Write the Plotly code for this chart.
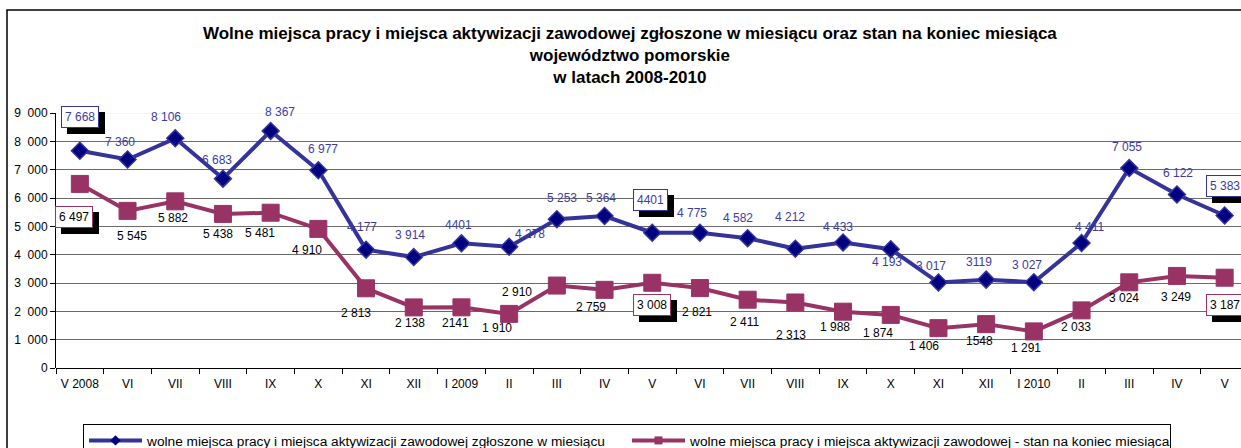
import plotly.graph_objects as go

months = ["V 2008", "VI", "VII", "VIII", "IX", "X", "XI", "XII", "I 2009", "II", "III", "IV",
          "V", "VI", "VII", "VIII", "IX", "X", "XI", "XII", "I 2010", "II", "III", "IV", "V"]

zgloszone = [7668, 7360, 8106, 6683, 8367, 6977, 4177, 3914, 4401, 4278, 5253, 5364,
             4775, 4775, 4582, 4212, 4433, 4193, 3017, 3119, 3027, 4411, 7055, 6122, 5383]
zgloszone_txt = ["7 668", "7 360", "8 106", "6 683", "8 367", "6 977", "4 177", "3 914", "4401",
                 "4 278", "5 253", "5 364", "4401", "4 775", "4 582", "4 212", "4 433", "4 193",
                 "3 017", "3119", "3 027", "4 411", "7 055", "6 122", "5 383"]

stan = [6497, 5545, 5882, 5438, 5481, 4910, 2813, 2138, 2141, 1910, 2910, 2759,
        3008, 2821, 2411, 2313, 1988, 1874, 1406, 1548, 1291, 2033, 3024, 3249, 3187]
stan_txt = ["6 497", "5 545", "5 882", "5 438", "5 481", "4 910", "2 813", "2 138", "2141",
            "1 910", "2 910", "2 759", "3 008", "2 821", "2 411", "2 313", "1 988", "1 874",
            "1 406", "1548", "1 291", "2 033", "3 024", "3 249", "3 187"]

y_ticks = [0, 1000, 2000, 3000, 4000, 5000, 6000, 7000, 8000, 9000]
y_ticktext = ["0", "1\u2007000", "2\u2007000", "3\u2007000", "4\u2007000", "5\u2007000",
              "6\u2007000", "7\u2007000", "8\u2007000", "9\u2007000"]

name1 = "wolne miejsca pracy i miejsca aktywizacji zawodowej zgłoszone w miesiącu"
name2 = "wolne miejsca pracy i miejsca aktywizacji zawodowej - stan na koniec miesiąca"

# --- styling (label offsets in screen pixels: dx right, dy down) ---
blue_off = [(0, -34), (-8, -17), (-9, -21), (-6, -19), (9, -19), (5, -21), (-4, -23), (-4, -22),
            (-3, -18), (21, -13), (5, -21), (-4, -18), (-2, -33), (-8, -20), (-10, -20), (-5, -32),
            (-5, -15), (-4, 13), (-7, -17), (-7, -18), (-7, -17), (8, -16), (-2, -21), (1, -22),
            (0, -29)]
red_off = [(-6, 33), (4, 25), (-2, 17), (-5, 20), (-11, 20), (-11, 21), (-10, 25), (-4, 16),
           (-6, 16), (-12, 14), (-40, 6), (-14, 17), (0, 22), (-3, 24), (-3, 22), (-4, 33),
           (-8, 15), (-13, 18), (-14, 18), (-7, 17), (-8, 17), (-6, 17), (-5, 16), (-1, 21),
           (0, 27)]
boxed = [0, 12, 24]

BLUE_LINE = "#333399"
BLUE_MARK = "#000080"
BLUE_TXT = "#3C3CA0"
RED = "#993366"
FONT = "Liberation Sans, Arial, sans-serif"

W, H = 1241, 448
L, R, T, B = 56, 0, 113, 80
PW, PH = W - L - R, H - T - B

xs = list(range(len(months)))

fig = go.Figure()
fig.add_trace(go.Scatter(
    x=xs, y=zgloszone, mode="lines+markers", showlegend=False,
    line=dict(color=BLUE_LINE, width=4),
    marker=dict(symbol="diamond", size=13, color=BLUE_MARK, line=dict(color=BLUE_LINE, width=1.5)),
))
fig.add_trace(go.Scatter(
    x=xs, y=stan, mode="lines+markers", showlegend=False,
    line=dict(color=RED, width=4),
    marker=dict(symbol="square", size=17, color=RED, line=dict(color=RED, width=1)),
))
# legend-only traces
fig.add_trace(go.Scatter(
    x=[None], y=[None], mode="lines+markers", name=name1,
    line=dict(color=BLUE_LINE, width=4),
    marker=dict(symbol="diamond", size=8, color=BLUE_MARK),
))
fig.add_trace(go.Scatter(
    x=[None], y=[None], mode="lines+markers", name=name2,
    line=dict(color=RED, width=4),
    marker=dict(symbol="square", size=8, color=RED),
))

ann = []
def add_labels(vals, txts, offs, color, border):
    for i, (v, t, (dx, dy)) in enumerate(zip(vals, txts, offs)):
        if i in boxed:
            ann.append(dict(x=i, y=v, xref="x", yref="y", text=t, showarrow=False,
                            xshift=dx + 6, yshift=-dy - 6,
                            font=dict(family=FONT, size=12, color="black"),
                            bgcolor="black", bordercolor="black", borderwidth=1, borderpad=3))
            ann.append(dict(x=i, y=v, xref="x", yref="y", text=t, showarrow=False,
                            xshift=dx, yshift=-dy,
                            font=dict(family=FONT, size=12, color=color),
                            bgcolor="white", bordercolor=border, borderwidth=1, borderpad=3))
        else:
            ann.append(dict(x=i, y=v, xref="x", yref="y", text=t, showarrow=False,
                            xshift=dx, yshift=-dy,
                            font=dict(family=FONT, size=12, color=color)))

add_labels(zgloszone, zgloszone_txt, blue_off, BLUE_TXT, BLUE_LINE)
add_labels(stan, stan_txt, red_off, "black", RED)

def px_x(p):
    return (p - L) / PW

def px_y(p):
    return (H - B - p) / PH

title_lines = ["Wolne miejsca pracy i miejsca aktywizacji zawodowej zgłoszone w miesiącu oraz stan na koniec miesiąca",
               "województwo pomorskie", "w latach 2008-2010"]
ann.append(dict(
    x=px_x(630), y=px_y(56), xref="paper", yref="paper", showarrow=False,
    xanchor="center", yanchor="middle",
    text="<br>".join("<b>%s</b>" % s for s in title_lines),
    font=dict(family=FONT, size=17, color="black"), align="center",
))

shapes = [
    dict(type="rect", xref="paper", yref="paper", x0=px_x(7), y0=px_y(470), x1=px_x(1260), y1=px_y(10),
         line=dict(color="black", width=1.5), fillcolor="rgba(0,0,0,0)", layer="below"),
    dict(type="line", xref="paper", yref="y", x0=0, x1=1, y0=9000, y1=9000,
         line=dict(color="#ececec", width=1), layer="below"),
]

fig.update_layout(
    width=W, height=H,
    margin=dict(l=L, r=R, t=T, b=B, autoexpand=False),
    paper_bgcolor="white", plot_bgcolor="white",
    font=dict(family=FONT, size=12, color="black"),
    xaxis=dict(
        range=[-0.5, -0.5 + PW / 47.7],
        tickvals=xs, ticktext=months,
        ticks="outside", ticklen=5, tickcolor="rgba(0,0,0,0)",
        showgrid=False, zeroline=False,
        showline=False,
        minor=dict(tick0=0.5, dtick=1, ticks="outside", ticklen=5, tickcolor="black", tickwidth=1,
                   showgrid=False),
        tickfont=dict(family=FONT, size=12, color="black"),
    ),
    yaxis=dict(
        range=[0, 9000], tickvals=y_ticks[:-1], ticktext=y_ticktext[:-1],
        ticks="outside", ticklen=5, tickcolor="black",
        showgrid=True, gridcolor="#6a6a6a", gridwidth=1,
        zeroline=True, zerolinecolor="black", zerolinewidth=1,
        showline=True, linecolor="black", linewidth=1,
        tickfont=dict(family=FONT, size=12, color="black"),
    ),
    yaxis2=dict(
        overlaying="y", range=[0, 9000], tickvals=y_ticks[-1:], ticktext=y_ticktext[-1:],
        ticks="outside", ticklen=5, tickcolor="black", side="left",
        showgrid=False, zeroline=False, showline=False,
        tickfont=dict(family=FONT, size=12, color="black"),
    ),
    legend=dict(
        orientation="h", x=px_x(83), y=px_y(424), xanchor="left", yanchor="top",
        bordercolor="black", borderwidth=1, bgcolor="white",
        font=dict(family=FONT, size=13.7, color="black"),
        itemwidth=53,
        entrywidth=475, entrywidthmode="pixels",
    ),
    annotations=ann,
    shapes=shapes,
)
fig.add_trace(go.Scatter(x=[None], y=[None], yaxis="y2", showlegend=False, hoverinfo="skip"))

fig.write_html("out.html", post_script="document.body.style.margin='0px';",
               config={"displayModeBar": False})
